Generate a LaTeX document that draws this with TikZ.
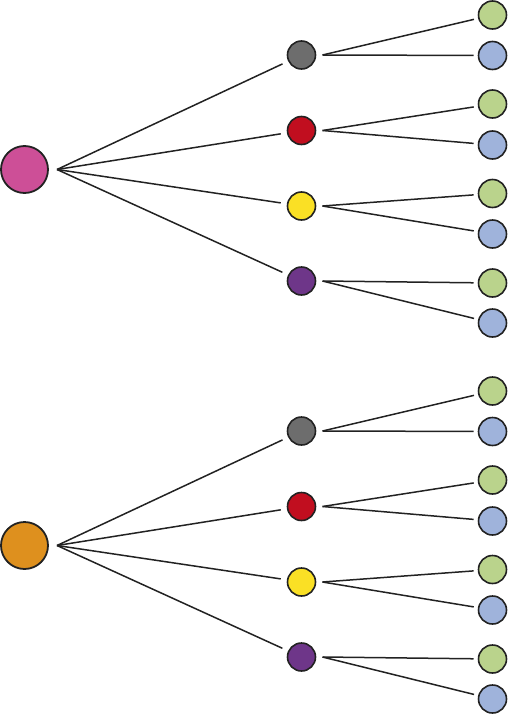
\documentclass[tikz,border=0pt]{standalone}
\usepackage{tikz}
\usetikzlibrary{positioning}

\definecolor{edgec}{HTML}{222222}
\definecolor{pinkc}{HTML}{CD4F97}
\definecolor{orangec}{HTML}{DE901E}
\definecolor{grayc}{HTML}{6D6D6D}
\definecolor{redc}{HTML}{C10E1F}
\definecolor{yellowc}{HTML}{FAE025}
\definecolor{purplec}{HTML}{6E3689}
\definecolor{greenc}{HTML}{BAD38C}
\definecolor{bluec}{HTML}{9FB3DB}

\begin{document}
\begin{tikzpicture}[x=1pt,y=-1pt,
  root/.style={circle,draw=edgec,line width=1.8pt,minimum size=47pt,inner sep=0pt,outer sep=0pt},
  mid/.style={circle,draw=edgec,line width=1.6pt,minimum size=28pt,inner sep=0pt,outer sep=7pt},
  leaf/.style={circle,draw=edgec,line width=1.6pt,minimum size=28pt,inner sep=0pt,outer sep=5pt},
  link/.style={draw=edgec,line width=1.5pt}]
  \useasboundingbox (0,0) rectangle (507,715);

  \node[root,fill=pinkc]   (a_0)  at (24.5,169.5) {};
  \node[mid,fill=grayc]    (a_1)  at (301.5,55)   {};
  \node[mid,fill=redc]     (a_2)  at (301.5,130.5) {};
  \node[mid,fill=yellowc]  (a_3)  at (301.5,206)  {};
  \node[mid,fill=purplec]  (a_4)  at (301.5,281)  {};
  \node[leaf,fill=greenc]  (a_11) at (492.5,15)   {};
  \node[leaf,fill=bluec]   (a_12) at (492.5,55.5) {};
  \node[leaf,fill=greenc]  (a_21) at (492.5,104)  {};
  \node[leaf,fill=bluec]   (a_22) at (492.5,145)  {};
  \node[leaf,fill=greenc]  (a_31) at (492.5,193.5) {};
  \node[leaf,fill=bluec]   (a_32) at (492.5,234)  {};
  \node[leaf,fill=greenc]  (a_41) at (492.5,283)  {};
  \node[leaf,fill=bluec]   (a_42) at (492.5,323)  {};

  \node[root,fill=orangec] (b_0)  at (24.5,545.5) {};
  \node[mid,fill=grayc]    (b_1)  at (301.5,431)  {};
  \node[mid,fill=redc]     (b_2)  at (301.5,506.5) {};
  \node[mid,fill=yellowc]  (b_3)  at (301.5,582)  {};
  \node[mid,fill=purplec]  (b_4)  at (301.5,657)  {};
  \node[leaf,fill=greenc]  (b_11) at (492.5,391)  {};
  \node[leaf,fill=bluec]   (b_12) at (492.5,431.5) {};
  \node[leaf,fill=greenc]  (b_21) at (492.5,480)  {};
  \node[leaf,fill=bluec]   (b_22) at (492.5,521)  {};
  \node[leaf,fill=greenc]  (b_31) at (492.5,569.5) {};
  \node[leaf,fill=bluec]   (b_32) at (492.5,610)  {};
  \node[leaf,fill=greenc]  (b_41) at (492.5,659)  {};
  \node[leaf,fill=bluec]   (b_42) at (492.5,699)  {};

  \coordinate[right=9pt of a_0.east] (a_f);
  \coordinate[right=9pt of b_0.east] (b_f);

  \path[link]
  (a_f) edge (a_1)
  (a_f) edge (a_2)
  (a_f) edge (a_3)
  (a_f) edge (a_4)
  (a_1.east) edge (a_11)
  (a_1.east) edge (a_12)
  (a_2.east) edge (a_21)
  (a_2.east) edge (a_22)
  (a_3.east) edge (a_31)
  (a_3.east) edge (a_32)
  (a_4.east) edge (a_41)
  (a_4.east) edge (a_42);

  \path[link]
  (b_f) edge (b_1)
  (b_f) edge (b_2)
  (b_f) edge (b_3)
  (b_f) edge (b_4)
  (b_1.east) edge (b_11)
  (b_1.east) edge (b_12)
  (b_2.east) edge (b_21)
  (b_2.east) edge (b_22)
  (b_3.east) edge (b_31)
  (b_3.east) edge (b_32)
  (b_4.east) edge (b_41)
  (b_4.east) edge (b_42);
\end{tikzpicture}
\end{document}
